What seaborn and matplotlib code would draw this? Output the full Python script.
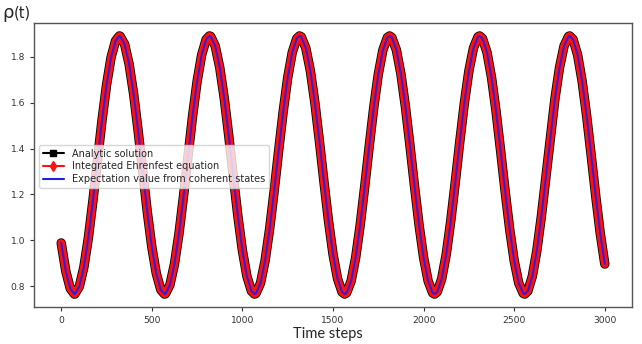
import numpy as np
import pandas as pd
import seaborn as sns
import matplotlib.pyplot as plt
from matplotlib.lines import Line2D

time_steps = np.arange(0, 3001, 25)

rho_analytic = [
    0.988, 0.866, 0.789, 0.765, 0.798, 0.882, 1.011, 1.172, 1.348, 1.522,
    1.676, 1.797, 1.870, 1.890, 1.855, 1.767, 1.636, 1.474, 1.298, 1.124,
    0.971, 0.854, 0.783, 0.766, 0.805, 0.896, 1.029, 1.192, 1.369, 1.542,
    1.693, 1.808, 1.876, 1.889, 1.847, 1.753, 1.618, 1.453, 1.276, 1.105,
    0.955, 0.842, 0.778, 0.768, 0.813, 0.910, 1.048, 1.213, 1.390, 1.561,
    1.709, 1.819, 1.880, 1.887, 1.838, 1.739, 1.599, 1.432, 1.255, 1.085,
    0.939, 0.832, 0.774, 0.770, 0.822, 0.924, 1.066, 1.234, 1.411, 1.580,
    1.724, 1.829, 1.884, 1.884, 1.829, 1.724, 1.580, 1.411, 1.234, 1.066,
    0.924, 0.822, 0.770, 0.774, 0.832, 0.939, 1.085, 1.255, 1.432, 1.599,
    1.739, 1.838, 1.887, 1.880, 1.819, 1.709, 1.561, 1.390, 1.213, 1.048,
    0.910, 0.813, 0.768, 0.778, 0.843, 0.955, 1.105, 1.277, 1.453, 1.618,
    1.753, 1.847, 1.889, 1.876, 1.808, 1.693, 1.541, 1.369, 1.192, 1.029,
    0.896,
]

# turning points (peaks and troughs)
extrema_t = [73, 321, 570, 818, 1067, 1315, 1564, 1812, 2061, 2309, 2558, 2806]
extrema_rho = [0.765, 1.891, 0.765, 1.891, 0.765, 1.891,
               0.765, 1.891, 0.765, 1.891, 0.765, 1.891]

labels = ["Analytic solution", "Integrated Ehrenfest equation",
          "Expectation value from coherent states"]

sns.set_style("ticks")
plt.rcParams["font.family"] = ["DejaVu Sans"]

fig = plt.figure(figsize=(6.42, 3.44), dpi=100)
ax = fig.add_axes([0.053, 0.1076, 0.9314, 0.8254])

df = pd.concat([
    pd.DataFrame({"t": time_steps, "rho": rho_analytic}),
    pd.DataFrame({"t": extrema_t, "rho": extrema_rho}),
]).sort_values("t").reset_index(drop=True)
# the three curves lie on top of each other in the figure
df["analytic"] = df["rho"]
df["ehrenfest"] = df["rho"]
df["coherent"] = df["rho"]

sns.lineplot(data=df, x="t", y="analytic", ax=ax, color="black", lw=6.8,
             solid_capstyle="round", solid_joinstyle="round", legend=False)
sns.lineplot(data=df, x="t", y="ehrenfest", ax=ax, color="#ff1010", lw=5.6,
             solid_capstyle="round", solid_joinstyle="round", legend=False)
sns.lineplot(data=df, x="t", y="coherent", ax=ax, color="#3a1ad0", lw=1.5,
             solid_joinstyle="round", legend=False)

ax.set_xlabel("")
ax.set_ylabel("")
ax.tick_params(labelsize=6.6, colors="#333333", length=3, width=0.8)
for s in ax.spines.values():
    s.set_color("#555555")
    s.set_linewidth(1.0)

handles = [
    Line2D([], [], color="black", marker="s", markersize=4.5, lw=1.5),
    Line2D([], [], color="#ff1010", marker="d", markersize=5, lw=1.5),
    Line2D([], [], color="#2020e0", lw=1.5),
]
ax.legend(handles, labels, loc="center left", bbox_to_anchor=(0.0, 0.495),
          fontsize=7, frameon=True, handlelength=2.2, borderpad=0.4,
          labelspacing=0.3)

fig.text(0.51, 0.029, "Time steps", ha="center", va="center",
         fontsize=10.5, family=["Lato", "DejaVu Sans"])
fig.text(0.004, 0.948, "ρ", fontsize=13, va="baseline", ha="left")
fig.text(0.021, 0.948, "(t)", fontsize=10.5, va="baseline", ha="left")

fig.savefig("out.png", dpi=100)
